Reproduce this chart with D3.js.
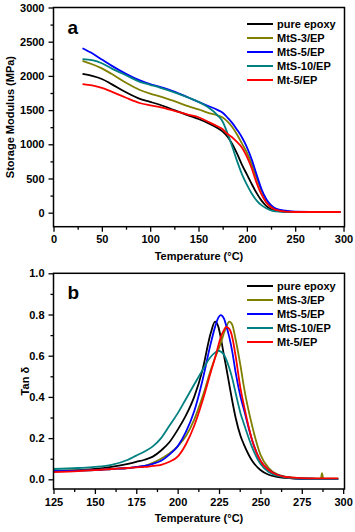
<!DOCTYPE html>
<html>
<head>
<meta charset="utf-8">
<script src="https://cdnjs.cloudflare.com/ajax/libs/d3/7.8.5/d3.min.js"></script>
<style>
  body { margin: 0; background: #fff; }
  text { font-family: "Liberation Sans", Arial, sans-serif; font-weight: bold; }
</style>
</head>
<body>
<svg class="chart"></svg>
<script>
var names  = ['pure epoxy', 'MtS-3/EP', 'MtS-5/EP', 'MtS-10/EP', 'Mt-5/EP'];
var colors = ['#000000', '#808000', '#0000ff', '#008080', '#ff0000'];

// storage modulus (MPa) vs temperature
var modT = [30, 40, 50, 60, 75, 90, 100, 110, 125, 140, 150, 160, 170, 175, 180, 185, 190, 195, 200, 205, 210, 215, 220, 225, 230, 240, 250, 275, 297];
var modEpoxy = [2030, 2000, 1955, 1880, 1760, 1660, 1620, 1578, 1500, 1420, 1370, 1310, 1235, 1185, 1110, 1000, 860, 700, 560, 420, 290, 180, 100, 50, 25, 12, 10, 8, 8];
var modMtS3  = [2220, 2170, 2110, 2030, 1900, 1790, 1740, 1700, 1630, 1555, 1510, 1460, 1420, 1390, 1330, 1250, 1140, 1010, 880, 710, 510, 330, 190, 100, 50, 18, 12, 10, 10];
var modMtS5  = [2405, 2330, 2240, 2150, 2030, 1930, 1880, 1840, 1770, 1680, 1620, 1560, 1500, 1460, 1390, 1310, 1210, 1100, 960, 780, 560, 350, 200, 110, 60, 30, 14, 12, 12];
var modMtS10 = [2245, 2230, 2185, 2110, 2010, 1910, 1870, 1830, 1760, 1680, 1620, 1540, 1420, 1330, 1160, 960, 750, 560, 410, 280, 180, 110, 65, 35, 20, 12, 10, 8, 8];
var modMt5   = [1880, 1860, 1825, 1770, 1680, 1600, 1570, 1545, 1490, 1430, 1395, 1330, 1260, 1220, 1150, 1100, 1030, 950, 820, 650, 440, 270, 150, 80, 40, 15, 10, 10, 10];

// tan delta vs temperature
var tanT = [125, 140, 150, 160, 170, 175, 180, 185, 190, 195, 200, 205, 210, 215, 220, 222.6, 224.6, 226, 228, 229.2, 231.2, 233, 235, 238, 240, 245, 250, 255, 260, 265, 270, 280, 286.5, 287.2, 288, 297];
var tanEpoxy = [0.04, 0.045, 0.05, 0.06, 0.075, 0.085, 0.095, 0.11, 0.14, 0.18, 0.24, 0.31, 0.40, 0.53, 0.71, 0.765, 0.74, 0.69, 0.60, 0.55, 0.46, 0.38, 0.30, 0.21, 0.17, 0.09, 0.045, 0.022, 0.012, 0.007, 0.004, 0.002, 0.002, 0.002, 0.002, 0.002];
var tanMtS3  = [0.04, 0.043, 0.045, 0.05, 0.055, 0.06, 0.065, 0.08, 0.10, 0.125, 0.16, 0.21, 0.29, 0.40, 0.53, 0.59, 0.63, 0.66, 0.71, 0.735, 0.765, 0.75, 0.68, 0.55, 0.45, 0.26, 0.12, 0.055, 0.025, 0.013, 0.008, 0.004, 0.003, 0.03, 0.003, 0.003];
var tanMtS5  = [0.04, 0.042, 0.045, 0.05, 0.055, 0.06, 0.065, 0.075, 0.09, 0.12, 0.16, 0.23, 0.33, 0.48, 0.66, 0.74, 0.785, 0.797, 0.78, 0.75, 0.69, 0.62, 0.52, 0.40, 0.34, 0.19, 0.09, 0.045, 0.022, 0.012, 0.006, 0.003, 0.002, 0.002, 0.002, 0.002];
var tanMtS10 = [0.05, 0.055, 0.06, 0.07, 0.095, 0.115, 0.135, 0.16, 0.20, 0.26, 0.32, 0.39, 0.46, 0.53, 0.595, 0.615, 0.624, 0.62, 0.605, 0.585, 0.54, 0.49, 0.42, 0.32, 0.27, 0.155, 0.075, 0.035, 0.018, 0.01, 0.006, 0.003, 0.002, 0.002, 0.002, 0.002];
var tanMt5   = [0.035, 0.04, 0.045, 0.05, 0.055, 0.058, 0.06, 0.065, 0.07, 0.085, 0.11, 0.17, 0.26, 0.38, 0.52, 0.59, 0.65, 0.69, 0.725, 0.74, 0.73, 0.69, 0.60, 0.44, 0.36, 0.19, 0.09, 0.045, 0.022, 0.012, 0.008, 0.005, 0.005, 0.005, 0.005, 0.005];

var modSeries = [modEpoxy, modMtS3, modMtS5, modMtS10, modMt5];
var tanSeries = [tanEpoxy, tanMtS3, tanMtS5, tanMtS10, tanMt5];

var modXTicks = [0, 50, 100, 150, 200, 250, 300];
var modYTicks = [0, 500, 1000, 1500, 2000, 2500, 3000];
var tanXTicks = [125, 150, 175, 200, 225, 250, 275, 300];
var tanYTicks = [0.0, 0.2, 0.4, 0.6, 0.8, 1.0];

var width = 355, height = 532;
var svg = d3.select('.chart').attr('width', width).attr('height', height);

function panel(opt) {
    var x = d3.scaleLinear().domain(opt.xDomain).range([opt.left, opt.right]);
    var y = d3.scaleLinear().domain(opt.yDomain).range([opt.bottom, opt.top]);
    var g = svg.append('g');

    // minor ticks
    g.append('g').attr('transform', 'translate(0,' + opt.bottom + ')')
        .call(d3.axisBottom(x).tickValues(opt.xMinor).tickSize(3).tickFormat(''))
        .call(function(s) { s.select('.domain').remove(); s.selectAll('line').attr('stroke-width', 1.3); });
    g.append('g').attr('transform', 'translate(' + opt.left + ',0)')
        .call(d3.axisLeft(y).tickValues(opt.yMinor).tickSize(3).tickFormat(''))
        .call(function(s) { s.select('.domain').remove(); s.selectAll('line').attr('stroke-width', 1.3); });

    // major ticks
    g.append('g').attr('transform', 'translate(0,' + opt.bottom + ')')
        .call(d3.axisBottom(x).tickValues(opt.xTicks).tickSize(5).tickPadding(4).tickFormat(opt.xFormat))
        .call(function(s) {
            s.select('.domain').remove();
            s.selectAll('line').attr('stroke-width', 1.3);
            s.selectAll('text').attr('font-size', 11).attr('font-family', null).attr('fill', '#000');
        });
    g.append('g').attr('transform', 'translate(' + opt.left + ',0)')
        .call(d3.axisLeft(y).tickValues(opt.yTicks).tickSize(5).tickPadding(4).tickFormat(opt.yFormat))
        .call(function(s) {
            s.select('.domain').remove();
            s.selectAll('line').attr('stroke-width', 1.3);
            s.selectAll('text').attr('font-size', 11).attr('font-family', null).attr('fill', '#000');
        });

    // curves
    var clipId = 'clip' + opt.letter;
    svg.append('clipPath').attr('id', clipId).append('rect')
        .attr('x', opt.left).attr('y', opt.top)
        .attr('width', opt.right - opt.left).attr('height', opt.bottom - opt.top);

    var line = d3.line()
        .x(function(d) { return x(d[0]); })
        .y(function(d) { return y(d[1]); })
        .curve(d3.curveMonotoneX);

    g.append('g').attr('clip-path', 'url(#' + clipId + ')')
        .selectAll('path')
        .data(opt.series)
        .enter().append('path')
        .attr('d', function(vals) { return line(opt.xs.map(function(t, i) { return [t, vals[i]]; })); })
        .attr('fill', 'none')
        .attr('stroke', function(d, i) { return colors[i]; })
        .attr('stroke-width', 1.8);

    // frame
    g.append('rect')
        .attr('x', opt.left).attr('y', opt.top)
        .attr('width', opt.right - opt.left).attr('height', opt.bottom - opt.top)
        .attr('fill', 'none').attr('stroke', '#000').attr('stroke-width', 1.5);

    // panel letter
    g.append('text').attr('x', opt.left + 14).attr('y', opt.top + 26)
        .attr('font-size', 19).text(opt.letter);

    // legend
    var leg = g.append('g').selectAll('g').data(names).enter().append('g')
        .attr('transform', function(d, i) { return 'translate(0,' + (opt.legendY + i * 14) + ')'; });
    leg.append('line').attr('x1', 247).attr('x2', 273).attr('y1', 0).attr('y2', 0)
        .attr('stroke', function(d, i) { return colors[i]; }).attr('stroke-width', 2);
    leg.append('text').attr('x', 277).attr('y', 4).attr('font-size', 11).text(function(d) { return d; });

    // axis titles
    g.append('text').attr('x', (opt.left + opt.right) / 2).attr('y', opt.bottom + 33)
        .attr('text-anchor', 'middle').attr('font-size', 11).text('Temperature (\u00B0C)');
    g.append('text')
        .attr('transform', 'translate(' + opt.yTitleX + ',' + (opt.top + opt.bottom) / 2 + ') rotate(-90)')
        .attr('text-anchor', 'middle').attr('font-size', 11).text(opt.yTitle);
}

panel({
    letter: 'a', left: 53.5, right: 344.5, top: 7.5, bottom: 226.7,
    xDomain: [0, 301], yDomain: [-205, 3000],
    xTicks: modXTicks, yTicks: modYTicks,
    xMinor: d3.range(25, 300, 50), yMinor: d3.range(250, 3000, 500),
    xFormat: d3.format('d'), yFormat: d3.format('d'),
    xs: modT, series: modSeries, legendY: 24,
    yTitle: 'Storage Modulus (MPa)', yTitleX: 14
});

panel({
    letter: 'b', left: 53.5, right: 344.5, top: 273.3, bottom: 489,
    xDomain: [125, 300.8], yDomain: [-0.047, 1.0],
    xTicks: tanXTicks, yTicks: tanYTicks,
    xMinor: d3.range(137.5, 300, 25), yMinor: d3.range(0.1, 1.0, 0.2),
    xFormat: d3.format('d'), yFormat: d3.format('.1f'),
    xs: tanT, series: tanSeries, legendY: 286,
    yTitle: 'Tan \u03B4', yTitleX: 29
});
</script>
</body>
</html>
